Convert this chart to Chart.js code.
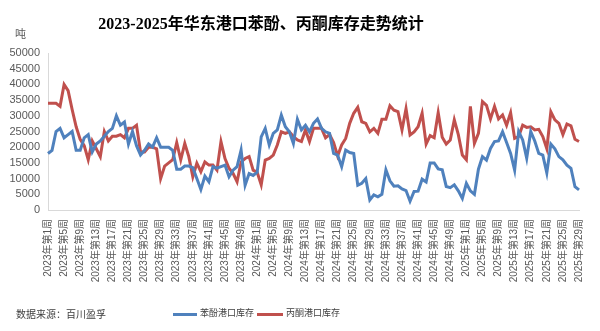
<!DOCTYPE html>
<html>
<head>
<meta charset="utf-8">
<script src="https://cdn.jsdelivr.net/npm/chart.js@4/dist/chart.umd.min.js"></script>
<style>
  body { margin: 0; background: #fff; }
  #wrap { position: relative; width: 600px; height: 331px; overflow: hidden; }
  .txt { position: absolute; white-space: nowrap; font-family: 'Noto Sans CJK SC', sans-serif; color: #404040; }
  .swatch { position: absolute; height: 3px; }
</style>
</head>
<body>
<div id="wrap">
  <canvas id="chart" width="600" height="331"></canvas>
  <div class="txt" style="left:0;width:522px;top:10px;text-align:center;font-size:16px;font-weight:bold;color:#000;font-family:'Liberation Serif','Noto Sans CJK SC',serif;">2023-2025年华东港口苯酚、丙酮库存走势统计</div>
  <div class="txt" style="left:15px;top:25px;font-size:11px;color:#595959;">吨</div>
  <div class="txt" style="left:16px;top:306px;font-size:10px;">数据来源：百川盈孚</div>
  <div class="swatch" style="left:173px;top:313px;width:24px;background:#4F81BD;"></div>
  <div class="txt" style="left:200px;top:306px;font-size:9px;">苯酚港口库存</div>
  <div class="swatch" style="left:257px;top:313px;width:26px;background:#C0504D;"></div>
  <div class="txt" style="left:286px;top:306px;font-size:9px;">丙酮港口库存</div>
</div>
<script>
// weeks per year shown on the axis
const years = [2023, 2024, 2025];
const weeksInYear = [52, 52, 29];

const categories = [];
years.forEach((y, k) => {
  for (let w = 1; w <= weeksInYear[k]; w++) categories.push(y + '年第' + w + '周');
});

// 苯酚港口库存 (吨)
const phenolStock = [
  18000, 19000, 25000, 26000, 23000, 24000, 25000, 19000, 19000, 23000,
  24000, 18500, 21000, 22000, 23500, 25000, 26000, 30000, 27000, 28000,
  21000, 25000, 20500, 17500, 19000, 21000, 20000, 23000, 20000, 20000,
  20000, 19000, 13000, 13000, 14000, 14000, 13500, 10000, 6500, 10800,
  9000, 13800, 13300, 13800, 14300, 10600, 12700, 13800, 19100, 7900,
  11600, 11000, 12000, 23300, 26000, 20700, 24400, 25500, 30200, 26500,
  24900, 21200, 28900, 25500, 27000, 24900, 27600, 29000, 26000, 24900,
  24400, 18000, 17500, 13800, 19100, 18300, 18000, 7900, 8500, 10000,
  3200, 4800, 4200, 5000, 12800, 9300, 7600, 7700, 6700, 6200,
  2800, 5900, 6000, 9800, 8900, 15000, 15000, 13100, 12800, 7500,
  7100, 8000, 6100, 3700, 8500, 6100, 5000, 13000, 17000, 15900,
  19600, 21800, 22000, 24900, 21500, 18000, 12700, 25000, 22300, 16500,
  25000, 22000, 18000, 17500, 11800, 21000, 19500, 17000, 16000, 14300,
  13300, 7400, 6400
];

// 丙酮港口库存 (吨)
const acetoneStock = [
  34000, 34000, 34000, 33000, 40000, 38000, 32000, 26500, 22500, 20500,
  16000, 22000, 19500, 17000, 25000, 22000, 23500, 23500, 24000, 23000,
  26000, 26000, 27000, 18500, 18500, 20000, 20000, 19500, 10000, 14000,
  15000, 16000, 21500, 16000, 21200, 17000, 10600, 14900, 12200, 15300,
  14300, 14300, 12700, 21800, 16400, 13300, 11700, 9000, 15300, 16400,
  17000, 12700, 12000, 8000, 15900, 16400, 17500, 20700, 24900, 24400,
  24900, 23400, 22300, 21800, 25500, 21800, 26000, 26000, 26000, 23000,
  24000, 21500, 17200, 20700, 22800, 27600, 30800, 32700, 28100, 27600,
  24900, 26000, 24400, 28900, 28900, 33200, 31800, 31300, 25500, 32300,
  23900, 24900, 26500, 30800, 21000, 23700, 23000, 31000, 23200, 21000,
  22300, 28700, 24000, 17500, 16000, 33000, 21200, 24400, 34500, 33300,
  29000, 33000, 29000, 30300, 27000, 31000, 22800, 23400, 27000, 26300,
  26500, 25500, 25700, 23400, 19500, 31300, 28700, 27600, 24000, 27400,
  26800, 22500, 21800
];

const yMax = 50000;
const yStep = 5000;
const labelEvery = 4;

const axisFont = "'Liberation Sans', 'Noto Sans CJK SC', sans-serif";

new Chart(document.getElementById('chart').getContext('2d'), {
  type: 'line',
  data: {
    labels: categories,
    datasets: [
      {
        label: '苯酚港口库存',
        data: phenolStock,
        borderColor: '#4F81BD',
        borderWidth: 3,
        pointRadius: 0,
        tension: 0,
        fill: false
      },
      {
        label: '丙酮港口库存',
        data: acetoneStock,
        borderColor: '#C0504D',
        borderWidth: 3,
        pointRadius: 0,
        tension: 0,
        fill: false
      }
    ]
  },
  options: {
    responsive: false,
    devicePixelRatio: 1,
    animation: false,
    layout: { padding: { top: 53, right: 18, left: 0, bottom: 0 } },
    plugins: {
      legend: { display: false },
      title: { display: false },
      tooltip: { enabled: false }
    },
    scales: {
      x: {
        grid: { display: false, drawTicks: false },
        border: { display: true, color: '#d9d9d9', width: 1 },
        ticks: {
          autoSkip: false,
          maxRotation: 90,
          minRotation: 90,
          padding: 9,
          color: '#595959',
          font: { family: axisFont, size: 10 },
          callback: (v, i) => (i % labelEvery === 0 ? categories[i] : null)
        },
        afterFit: (scale) => { scale.height = 121; }
      },
      y: {
        min: 0,
        max: yMax,
        grid: { display: false, drawTicks: false },
        border: { display: true, color: '#d9d9d9', width: 1 },
        ticks: {
          stepSize: yStep,
          autoSkip: false,
          padding: 8,
          color: '#595959',
          font: { family: axisFont, size: 11 },
          callback: (v) => String(v)
        },
        afterFit: (scale) => { scale.width = 48; }
      }
    }
  }
});
</script>
</body>
</html>
